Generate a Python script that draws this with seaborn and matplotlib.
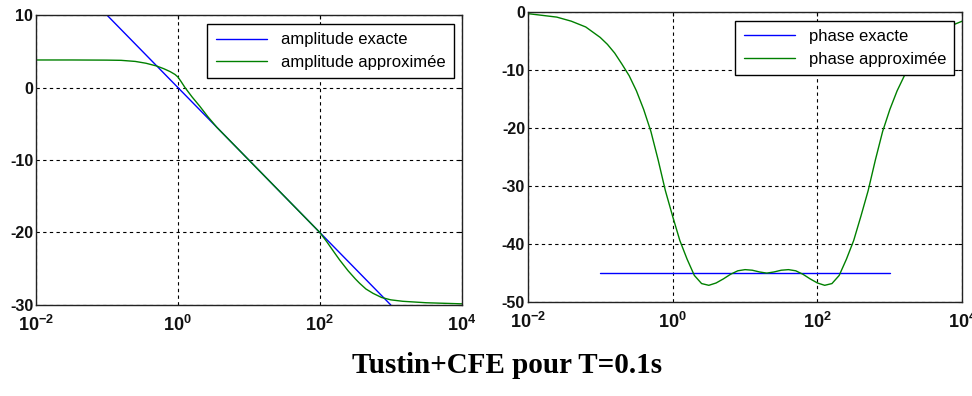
import numpy as np
import pandas as pd
import matplotlib
matplotlib.use('Agg')
import matplotlib.pyplot as plt
import seaborn as sns

# exact curves (log10 of pulsation)
exact_logw = [-1, 0, 1, 2, 3]
amp_exact = [10, 0, -10, -20, -30]
phase_exact = [-45, -45, -45, -45, -45]

# approximated amplitude (Tustin+CFE)
amp_logw = [-2.0, -1.5, -1.0, -0.8, -0.6, -0.45, -0.3, -0.2, -0.11, -0.04, 0.0, 0.04, 0.1,
            0.2, 0.31, 0.42, 0.55, 0.7, 1.0, 1.5, 2.0, 2.1, 2.2, 2.28, 2.4, 2.5, 2.56,
            2.65, 2.75, 2.87, 3.0, 3.17, 3.5, 4.0]
amp_approx = [3.8, 3.8, 3.78, 3.75, 3.6, 3.35, 2.97, 2.6, 2.2, 1.8, 1.45, 0.9, 0.0,
              -1.3, -2.6, -4.0, -5.5, -7.0, -10.0, -15.0, -20.0, -21.3, -22.7, -23.8,
              -25.3, -26.4, -27.0, -27.8, -28.4, -28.97, -29.3, -29.5, -29.7, -29.85]

# approximated phase (Tustin+CFE)
ph_logw = [-2.0, -1.8, -1.6, -1.4, -1.2, -1.0, -0.9, -0.8, -0.7, -0.6, -0.5, -0.4, -0.3,
           -0.2, -0.1, 0.0, 0.1, 0.2, 0.3, 0.4, 0.5, 0.6, 0.7, 0.8, 0.9, 1.0, 1.1, 1.2,
           1.3, 1.4, 1.5, 1.6, 1.7, 1.8, 1.9, 2.0, 2.1, 2.2, 2.3, 2.4, 2.5, 2.6, 2.7,
           2.8, 2.9, 3.0, 3.1, 3.2, 3.3, 3.4, 3.5, 3.6, 3.8, 4.0]
phase_approx = [-0.3, -0.6, -0.9, -1.6, -2.6, -4.4, -5.6, -7.1, -9.0, -11.0, -13.6, -16.8,
                -20.6, -25.5, -30.8, -35.2, -39.4, -42.6, -45.4, -46.8, -47.1, -46.7,
                -46.0, -45.2, -44.6, -44.4, -44.5, -44.8, -45.0, -44.8, -44.5, -44.4,
                -44.6, -45.2, -46.0, -46.7, -47.1, -46.8, -45.4, -42.6, -39.4, -35.2,
                -30.8, -25.5, -20.6, -16.8, -13.6, -11.0, -9.0, -7.1, -5.6, -4.4, -2.6,
                -1.6]

xtick_exp = [-2, 0, 2, 4]

sns.set_style("white")
plt.rcParams['font.family'] = ['Liberation Sans', 'DejaVu Sans']
plt.rcParams['text.color'] = 'black'
plt.rcParams['mathtext.fontset'] = 'custom'
plt.rcParams['mathtext.rm'] = 'Liberation Sans:bold'
plt.rcParams['mathtext.it'] = 'Liberation Sans:bold'
plt.rcParams['mathtext.bf'] = 'Liberation Sans:bold'

amp_df = pd.concat([
    pd.DataFrame({'w': 10.0 ** np.array(exact_logw, dtype=float), 'val': amp_exact,
                  'serie': 'amplitude exacte'}),
    pd.DataFrame({'w': 10.0 ** np.array(amp_logw), 'val': amp_approx,
                  'serie': 'amplitude approximée'}),
])
ph_df = pd.concat([
    pd.DataFrame({'w': 10.0 ** np.array(exact_logw, dtype=float), 'val': phase_exact,
                  'serie': 'phase exacte'}),
    pd.DataFrame({'w': 10.0 ** np.array(ph_logw), 'val': phase_approx,
                  'serie': 'phase approximée'}),
])

fig = plt.figure(figsize=(9.72, 3.96), dpi=100)
ax1 = fig.add_axes([0.037, 0.230, 0.438, 0.732])
ax2 = fig.add_axes([0.543, 0.237, 0.447, 0.733])

palette1 = {'amplitude exacte': '#0000ff', 'amplitude approximée': '#008000'}
palette2 = {'phase exacte': '#0000ff', 'phase approximée': '#008000'}

sns.lineplot(data=amp_df, x='w', y='val', hue='serie', palette=palette1, ax=ax1,
             linewidth=1.0, sort=False, estimator=None)
sns.lineplot(data=ph_df, x='w', y='val', hue='serie', palette=palette2, ax=ax2,
             linewidth=1.0, sort=False, estimator=None)

for ax, ylim, yticks in [(ax1, (-30, 10), [-30, -20, -10, 0, 10]),
                         (ax2, (-50, 0), [-50, -40, -30, -20, -10, 0])]:
    ax.set_xscale('log')
    ax.set_xlim(1e-2, 1e4)
    ax.set_ylim(*ylim)
    ax.set_xticks([10.0 ** e for e in xtick_exp])
    ax.set_xticklabels([r'$10^{%d}$' % e for e in xtick_exp])
    ax.minorticks_off()
    ax.set_yticks(yticks)
    ax.set_yticklabels([str(t) for t in yticks], fontweight='bold')
    ax.set_xlabel('')
    ax.set_ylabel('')
    ax.tick_params(axis='both', direction='in', length=3, top=True, right=True,
                   color='black', labelcolor='#111111')
    ax.tick_params(axis='x', labelsize=13, pad=7)
    ax.tick_params(axis='y', labelsize=11.5, pad=2)
    ax.grid(True, color='black', linestyle=(0, (3, 3)), linewidth=0.8)
    for s in ax.spines.values():
        s.set_color('#222222')
        s.set_linewidth(1.0)

ax1.legend(loc='upper right', bbox_to_anchor=(0.981, 0.969), borderaxespad=0,
           fontsize=12, frameon=True, fancybox=False, edgecolor='black',
           framealpha=1, handlelength=3.1, labelspacing=0.45, borderpad=0.5,
           title=None).get_frame().set_linewidth(1.0)
ax2.legend(loc='upper right', bbox_to_anchor=(0.982, 0.969), borderaxespad=0,
           fontsize=12, frameon=True, fancybox=False, edgecolor='black',
           framealpha=1, handlelength=3.1, labelspacing=0.45, borderpad=0.5,
           title=None).get_frame().set_linewidth(1.0)

fig.text(0.522, 0.078, 'Tustin+CFE pour T=0.1s', ha='center', va='center',
         family='Liberation Serif', fontweight='bold', fontsize=21, color='black')

plt.savefig('out.png', dpi=100)
plt.close()
